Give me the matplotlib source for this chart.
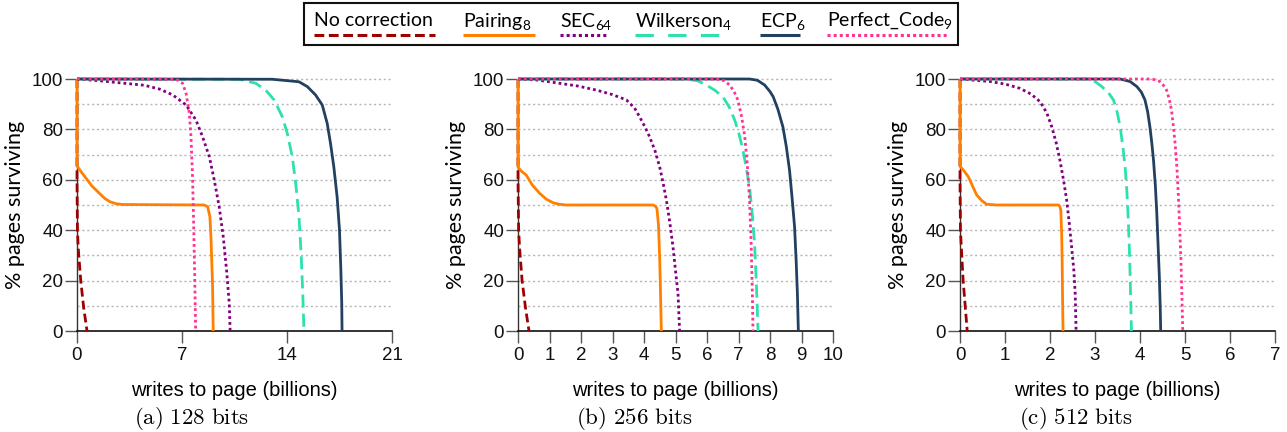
import matplotlib
matplotlib.use('Agg')
import matplotlib.pyplot as plt
from matplotlib.lines import Line2D
from matplotlib.patches import Rectangle

# ---------------- data ----------------
SERIES = ['No correction', 'Pairing$_{8}$', 'SEC$_{64}$', 'Wilkerson$_{4}$', 'ECP$_{6}$', 'Perfect_Code$_{9}$']
CAPTIONS = ['(a) 128 bits', '(b) 256 bits', '(c) 512 bits']
XMAX = [21, 10, 7]
XTICKS = [[0, 7, 14, 21], list(range(0, 11)), list(range(0, 8))]
YTICKS = [0, 20, 40, 60, 80, 100]

# panel (a) 128 bits
a_nocorr_x = [0, 0, 0.03, 0.08, 0.25, 0.45, 0.67]
a_nocorr_y = [100, 60, 40, 33, 20, 9, 0]
a_pair_x = [0, 0, 0.3, 0.62, 1.0, 1.5, 1.85, 2.2, 2.6, 3.0, 8.48, 8.71, 8.86, 8.93, 9.04, 9.08]
a_pair_y = [100, 65.5, 63, 60.5, 57.5, 54.6, 52.6, 51.3, 50.5, 50.2, 50, 49.3, 45.4, 37.4, 17.6, 0]
a_sec_x = [0, 1.5, 3.0, 4.5, 5.5, 6.38, 7.27, 7.93, 8.37, 8.82, 9.15, 9.48, 9.75, 9.97, 10.15, 10.21]
a_sec_y = [100, 99.3, 98.4, 97.5, 96, 93.7, 89.7, 83.7, 77.1, 69.2, 59.9, 49.3, 37.4, 24.2, 11, 0]
a_wilk_x = [0, 10.81, 11.92, 12.58, 13.14, 13.69, 14.02, 14.35, 14.58, 14.8, 14.95, 15.06, 15.13]
a_wilk_y = [100, 99.9, 98.3, 95.6, 91.7, 85, 78.4, 69.2, 58.6, 45.4, 29.5, 13.6, 0]
a_ecp_x = [0, 13.02, 14.8, 15.35, 15.9, 16.35, 16.68, 16.9, 17.12, 17.34, 17.5, 17.59, 17.65, 17.67]
a_ecp_y = [100, 99.9, 98.9, 97, 93.7, 89.7, 82.4, 74.5, 65.2, 53.3, 40, 24.2, 11, 0]
a_perf_x = [0, 6.4, 6.71, 7.04, 7.27, 7.49, 7.6, 7.71, 7.77, 7.84, 7.91]
a_perf_y = [100, 99.9, 99.6, 98.3, 94.3, 86.4, 77.1, 59.9, 44, 24.2, 0]

# panel (b) 256 bits
b_nocorr_x = [0, 0, 0.02, 0.05, 0.13, 0.24, 0.35]
b_nocorr_y = [100, 60, 40, 33, 20, 9, 0]
b_pair_x = [0, 0, 0.1, 0.26, 0.45, 0.69, 0.9, 1.11, 1.3, 1.53, 4.29, 4.36, 4.41, 4.46, 4.5, 4.53, 4.55]
b_pair_y = [100, 65, 63.5, 61.9, 58, 54.6, 52.3, 50.9, 50.3, 50, 50, 49.5, 48.7, 42, 28, 12, 0]
b_sec_x = [0, 0.6, 1.32, 1.9, 2.49, 3.0, 3.44, 3.7, 3.86, 4.03, 4.18, 4.35, 4.5, 4.61, 4.71, 4.82,
           4.92, 5.0, 5.08, 5.13]
b_sec_y = [100, 99.6, 98.3, 97.2, 95.6, 93.8, 91.7, 88.5, 85, 81, 77, 71.5, 65, 58.5, 52, 43,
           33.4, 24, 14.8, 0]
b_wilk_x = [0, 5.34, 5.7, 5.98, 6.25, 6.5, 6.7, 6.88, 7.02, 7.14, 7.25, 7.35, 7.44, 7.51, 7.57, 7.62]
b_wilk_y = [100, 100, 99.3, 97.6, 95.5, 93, 89, 83.7, 78, 71.8, 64.5, 57.2, 46, 34.7, 18, 0]
b_ecp_x = [0, 7.35, 7.6, 7.83, 8.0, 8.1, 8.25, 8.41, 8.52, 8.62, 8.7, 8.78, 8.83, 8.87, 8.9]
b_ecp_y = [100, 100, 99.5, 97.6, 95, 93, 88, 81, 73, 63.8, 53, 41.3, 28, 14.8, 0]
b_perf_x = [0, 6.3, 6.55, 6.72, 6.86, 6.98, 7.1, 7.2, 7.28, 7.35, 7.4, 7.44, 7.46]
b_perf_y = [100, 100, 99.3, 97.6, 95, 91.7, 85, 77, 66, 52, 35, 14.8, 0]

# panel (c) 512 bits
c_nocorr_x = [0, 0, 0.01, 0.03, 0.07, 0.12, 0.16]
c_nocorr_y = [100, 60, 40, 33, 20, 9, 0]
c_pair_x = [0, 0, 0.09, 0.185, 0.28, 0.37, 0.48, 0.59, 0.81, 2.19, 2.22, 2.24, 2.26, 2.27, 2.28, 2.29]
c_pair_y = [100, 65.4, 63.5, 61.2, 57.5, 54, 51.8, 50.3, 50, 50, 49.4, 48, 38, 28, 12, 0]
c_sec_x = [0, 0.67, 1.0, 1.33, 1.58, 1.78, 1.93, 2.04, 2.14, 2.22, 2.3, 2.37, 2.43, 2.48, 2.53, 2.56, 2.58]
c_sec_y = [100, 99, 98, 96.3, 94, 91, 86.5, 81, 74.5, 67.8, 60, 52, 42.5, 33.4, 24, 14.8, 0]
c_wilk_x = [0, 2.81, 3.0, 3.15, 3.3, 3.41, 3.49, 3.56, 3.62, 3.67, 3.71, 3.74, 3.77, 3.79, 3.81]
c_wilk_y = [100, 100, 99, 97, 94.5, 91.7, 87, 81, 73, 65, 55, 44, 29, 14.8, 0]
c_ecp_x = [0, 3.56, 3.78, 3.93, 4.03, 4.11, 4.17, 4.22, 4.26, 4.3, 4.34, 4.37, 4.4, 4.43, 4.45, 4.46]
c_ecp_y = [100, 100, 99, 97, 94.8, 91.7, 87, 81, 75, 67.8, 58, 48, 35, 21.5, 9, 0]
c_perf_x = [0, 4.22, 4.35, 4.44, 4.52, 4.59, 4.65, 4.7, 4.74, 4.78, 4.82, 4.85, 4.88, 4.91, 4.93, 4.95]
c_perf_y = [100, 100, 99.7, 99, 97.5, 95.6, 92, 87.7, 81.5, 74.4, 65, 54.6, 42, 28, 15, 0]

PANELS = [
    [(a_nocorr_x, a_nocorr_y), (a_pair_x, a_pair_y), (a_sec_x, a_sec_y),
     (a_wilk_x, a_wilk_y), (a_ecp_x, a_ecp_y), (a_perf_x, a_perf_y)],
    [(b_nocorr_x, b_nocorr_y), (b_pair_x, b_pair_y), (b_sec_x, b_sec_y),
     (b_wilk_x, b_wilk_y), (b_ecp_x, b_ecp_y), (b_perf_x, b_perf_y)],
    [(c_nocorr_x, c_nocorr_y), (c_pair_x, c_pair_y), (c_sec_x, c_sec_y),
     (c_wilk_x, c_wilk_y), (c_ecp_x, c_ecp_y), (c_perf_x, c_perf_y)],
]

# ---------------- styles ----------------
COLORS = ['#9e0000', '#ff8000', '#800080', '#2ee0ae', '#22405f', '#ff3390']
LW = 2.0
DASHES = [(3.2, 1.5), None, (1.0, 1.1), (4.7, 2.2), None, (1.0, 1.1)]
LEG_DASHES = [(3.2, 1.5), None, (1.0, 1.0), (6.0, 4.7), None, (1.0, 1.0)]

plt.rcParams['mathtext.fontset'] = 'custom'
plt.rcParams['mathtext.rm'] = 'Lato'
plt.rcParams['mathtext.it'] = 'Lato:italic'
plt.rcParams['mathtext.bf'] = 'Lato:bold'

NARROW = ['Liberation Sans Narrow', 'Liberation Sans', 'DejaVu Sans']
HUMAN = ['Lato', 'DejaVu Sans']

W, H = 1287, 432
fig = plt.figure(figsize=(W / 100, H / 100), dpi=100)


def rect(l, r, t, b):
    return [l / W, 1 - b / H, (r - l) / W, (b - t) / H]


def fx(x):
    return x / W


def fy(y):
    return 1 - y / H


AX_LEFT = [77, 518, 960]
AX_RIGHT = [392, 833, 1275]
CAP_X = [192, 634, 1076]
AX_TOP, AX_BOT = 79, 331

for i in range(3):
    ax = fig.add_axes(rect(AX_LEFT[i], AX_RIGHT[i], AX_TOP, AX_BOT))
    ax.set_xlim(0, XMAX[i])
    ax.set_ylim(0, 100)
    # grid
    for g in range(10, 101, 10):
        ax.axhline(g, color='#b5b5b5', lw=1.0, dashes=(1.5, 2.0), zorder=0, clip_on=False)
    for (xs, ys), col, d in zip(PANELS[i], COLORS, DASHES):
        ln, = ax.plot(xs, ys, color=col, lw=LW, clip_on=False, zorder=3,
                      solid_capstyle='butt', dash_capstyle='butt',
                      solid_joinstyle='round', dash_joinstyle='round')
        if d is not None:
            ln.set_dashes(d)
    for s in ['top', 'right']:
        ax.spines[s].set_visible(False)
    ax.spines['left'].set_color('#333333')
    ax.spines['bottom'].set_color('#111111')
    ax.spines['left'].set_linewidth(1.0)
    ax.spines['bottom'].set_linewidth(1.2)
    ax.set_xticks(XTICKS[i])
    ax.set_yticks(YTICKS)
    ax.tick_params(axis='both', direction='out', length=8.5, width=1.0, color='#555555',
                   labelsize=13.5, labelcolor='#111111')
    ax.tick_params(axis='y', pad=1.5)
    ax.tick_params(axis='x', pad=3)
    for lab in ax.get_xticklabels() + ax.get_yticklabels():
        lab.set_family(NARROW)
    ax.set_ylabel('% pages surviving', family=HUMAN, fontsize=15.5, labelpad=5)
    ax.set_xlabel('writes to page (billions)', family=NARROW, fontsize=14.5, labelpad=12)
    fig.text(fx(CAP_X[i]), fy(419), r'$\mathrm{' + CAPTIONS[i].replace(' ', r'\ ') + '}$',
             math_fontfamily='cm', fontsize=16.5, ha='center', va='center')

# ---------------- legend (labels above line samples) ----------------
fig.patches.append(Rectangle((fx(304), fy(45)), (958 - 304) / W, (45 - 3) / H,
                             transform=fig.transFigure, fill=False, edgecolor='#111111', lw=1.5))
LEG_X0 = [314, 463, 560, 635, 760, 827]
LEG_X1 = [435, 535, 607, 727, 800, 949]
for lab, col, d, x0, x1 in zip(SERIES, COLORS, LEG_DASHES, LEG_X0, LEG_X1):
    fig.text(fx(x0), fy(21), lab, family=HUMAN, fontsize=14, ha='left', va='center',
             math_fontfamily='custom')
    ln = Line2D([fx(x0), fx(x1)], [fy(35), fy(35)], transform=fig.transFigure,
                color=col, lw=2.2, solid_capstyle='butt', dash_capstyle='butt')
    if d is not None:
        ln.set_dashes(d)
    fig.lines.append(ln)

fig.savefig('out.png', dpi=100)
